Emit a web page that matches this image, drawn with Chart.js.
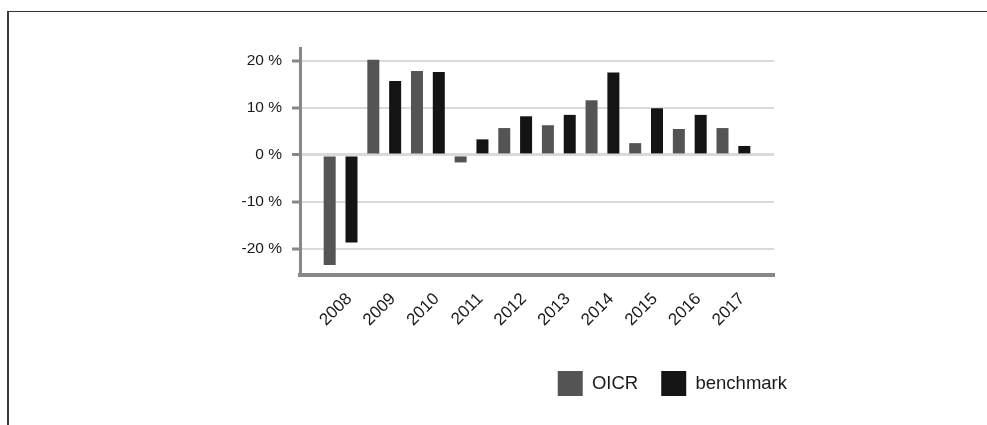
<!DOCTYPE html>
<html>
<head>
<meta charset="utf-8">
<script src="https://cdn.jsdelivr.net/npm/chart.js@4.4.1/dist/chart.umd.min.js"></script>
<style>
  html, body { margin: 0; padding: 0; background: #fff; }
  #wrap { position: relative; width: 987px; height: 425px; overflow: hidden; }
  #frame { position: absolute; left: 7px; top: 11px; right: 0; bottom: 0; border-top: 1px solid #333; border-left: 2px solid #3a3a3a; }
  #chart { position: absolute; left: 0; top: 0; }
</style>
</head>
<body>
<div id="wrap">
  <div id="frame"></div>
  <canvas id="chart" width="987" height="425"></canvas>
</div>
<script>
const years = ['2008', '2009', '2010', '2011', '2012', '2013', '2014', '2015', '2016', '2017'];
const oicr = [-23.4, 20.2, 17.8, -1.6, 5.7, 6.3, 11.6, 2.5, 5.5, 5.7];
const benchmark = [-18.6, 15.7, 17.6, 3.3, 8.2, 8.5, 17.5, 9.9, 8.5, 1.9];
const yTicks = [-20, -10, 0, 10, 20];

const font = "'Liberation Sans', Arial, sans-serif";
// year labels sit a little right of the group centre
const labelShift = 0.2;

function points(values) {
    return values.map((v, i) => ({ x: i, y: v }));
}

const ctx = document.getElementById('chart').getContext('2d');
const chart = new Chart(ctx, {
    type: 'bar',
    data: {
        datasets: [
            { label: 'OICR', data: points(oicr), backgroundColor: '#545454', barPercentage: 0.55, categoryPercentage: 1 },
            { label: 'benchmark', data: points(benchmark), backgroundColor: '#141414', barPercentage: 0.55, categoryPercentage: 1 }
        ]
    },
    options: {
        responsive: false,
        animation: false,
        layout: { padding: { top: 48, left: 0, right: 177, bottom: 19 } },
        plugins: {
            tooltip: { enabled: false },
            legend: {
                position: 'bottom',
                align: 'end',
                labels: {
                    boxWidth: 25,
                    boxHeight: 25,
                    padding: 23,
                    color: '#1a1a1a',
                    font: { family: font, size: 18.5 }
                }
            }
        },
        scales: {
            x: {
                type: 'linear',
                offset: false,
                min: -0.93,
                max: 9.93,
                grid: { display: false, drawTicks: false, offset: false },
                border: { display: true, color: '#888', width: 4 },
                afterBuildTicks: s => { s.ticks = years.map((y, i) => ({ value: i + labelShift })); },
                afterFit: s => { s.height = 73; },
                ticks: {
                    minRotation: 45,
                    maxRotation: 45,
                    padding: 14,
                    color: '#1a1a1a',
                    font: { family: font, size: 17 },
                    callback: v => years[Math.round(v - labelShift)]
                }
            },
            y: {
                min: -25.5,
                max: 22.7,
                afterBuildTicks: s => { s.ticks = yTicks.map(v => ({ value: v })); },
                afterFit: s => { s.width = 300; },
                grid: {
                    color: '#dadada',
                    lineWidth: c => (c.tick && c.tick.value === 0 ? 3 : 2),
                    tickColor: '#888',
                    tickWidth: 3,
                    tickLength: 8
                },
                border: { display: true, color: '#888', width: 3 },
                ticks: {
                    padding: 10,
                    color: '#1a1a1a',
                    font: { family: font, size: 15.5 },
                    callback: v => v + ' %'
                }
            },
            yRight: {
                type: 'linear',
                position: 'right',
                grid: { display: false, drawTicks: false },
                border: { display: false },
                ticks: { display: false },
                afterFit: s => { s.width = 36; }
            }
        }
    }
});
</script>
</body>
</html>
